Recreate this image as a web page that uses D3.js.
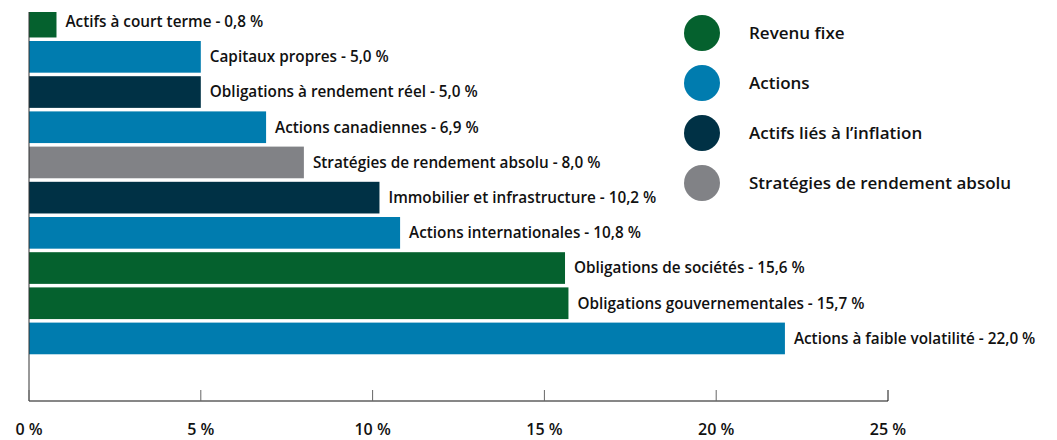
<!DOCTYPE html>
<html>
<head>
<meta charset="utf-8">
<script src="https://cdn.jsdelivr.net/npm/d3@7"></script>
<style>
  body { margin: 0; background: #fff; }
  text { font-family: "Open Sans", "Noto Sans", sans-serif; font-weight: 600; fill: #111; }
</style>
</head>
<body>
<svg id="chart" width="1057" height="440"></svg>
<script>
// données du graphique
const categories = [
  "Actifs à court terme",
  "Capitaux propres",
  "Obligations à rendement réel",
  "Actions canadiennes",
  "Stratégies de rendement absolu",
  "Immobilier et infrastructure",
  "Actions internationales",
  "Obligations de sociétés",
  "Obligations gouvernementales",
  "Actions à faible volatilité"
];
const values = [0.8, 5.0, 5.0, 6.9, 8.0, 10.2, 10.8, 15.6, 15.7, 22.0];
const groups = ["Revenu fixe", "Actions", "Actifs liés à l’inflation", "Actions",
  "Stratégies de rendement absolu", "Actifs liés à l’inflation", "Actions",
  "Revenu fixe", "Revenu fixe", "Actions"];
const legendNames = ["Revenu fixe", "Actions", "Actifs liés à l’inflation", "Stratégies de rendement absolu"];
const xTicks = [0, 5, 10, 15, 20, 25];

const data = categories.map((c, i) => ({ name: c, value: values[i], group: groups[i] }));

const svg = d3.select("#chart");

const color = d3.scaleOrdinal()
  .domain(legendNames)
  .range(["#05612e", "#007caf", "#003145", "#818286"]);

const x = d3.scaleLinear().domain([0, 25]).range([29, 888]);
const y = d3.scaleBand()
  .domain(categories)
  .range([4.04, 356.04])
  .paddingInner(0.1)
  .paddingOuter(0.05);

const fmt = v => d3.format(".1f")(v).replace(".", ",");

// zone de coupe (la première barre est rognée en haut)
svg.append("defs").append("clipPath").attr("id", "clip")
  .append("rect").attr("x", 0).attr("y", 12).attr("width", 1057).attr("height", 400);

const bars = svg.append("g").attr("clip-path", "url(#clip)");
bars.selectAll("rect")
  .data(data)
  .enter()
  .append("rect")
  .attr("x", x(0))
  .attr("y", d => y(d.name))
  .attr("width", d => x(d.value) - x(0))
  .attr("height", y.bandwidth())
  .attr("fill", d => color(d.group));

// étiquettes des barres
svg.append("g").selectAll("text")
  .data(data)
  .enter()
  .append("text")
  .attr("x", d => x(d.value) + 9)
  .attr("y", d => Math.max(y(d.name) + y.bandwidth() / 2, 22))
  .attr("dy", "0.35em")
  .attr("font-size", 15.3)
  .text(d => `${d.name} - ${fmt(d.value)} %`);

// axe vertical
svg.append("line")
  .attr("x1", x(0)).attr("x2", x(0))
  .attr("y1", 12).attr("y2", 401)
  .attr("stroke", "#333").attr("stroke-width", 1);

// axe horizontal
const axis = svg.append("g").attr("transform", "translate(0,401)");
axis.append("line")
  .attr("x1", x(0)).attr("x2", x(25))
  .attr("stroke", "#111").attr("stroke-width", 1.2);
axis.selectAll(".tick")
  .data(xTicks)
  .enter()
  .append("line")
  .attr("x1", d => x(d)).attr("x2", d => x(d))
  .attr("y1", -11).attr("y2", 0)
  .attr("stroke", d => d === 25 ? "#111" : "#666");
axis.selectAll(".lbl")
  .data(xTicks)
  .enter()
  .append("text")
  .attr("x", d => x(d))
  .attr("y", 34)
  .attr("text-anchor", "middle")
  .attr("font-size", 16)
  .text(d => `${d} %`);

// légende
const legend = svg.append("g");
legend.selectAll("circle")
  .data(legendNames)
  .enter()
  .append("circle")
  .attr("cx", 702)
  .attr("cy", (d, i) => 33 + i * 50)
  .attr("r", 18)
  .attr("fill", d => color(d));
legend.selectAll("text")
  .data(legendNames)
  .enter()
  .append("text")
  .attr("x", 749)
  .attr("y", (d, i) => 33 + i * 50)
  .attr("dy", "0.35em")
  .attr("font-size", 17)
  .text(d => d);
</script>
</body>
</html>
